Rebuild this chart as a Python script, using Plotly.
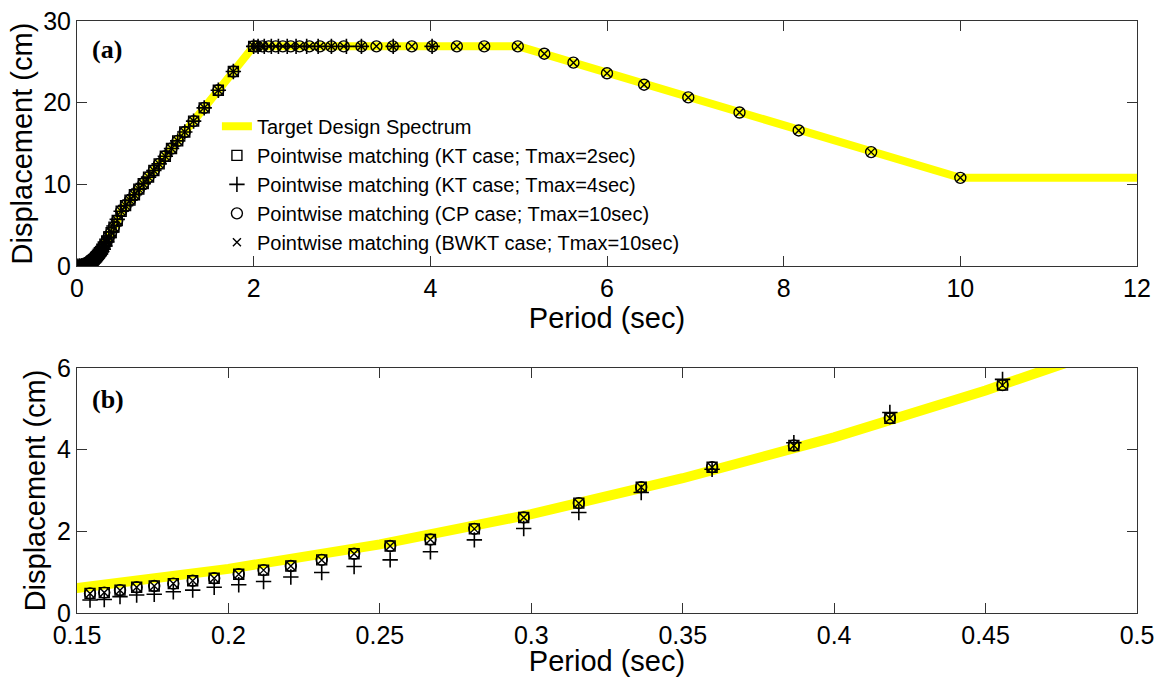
import plotly.graph_objects as go

# ---------------- data ----------------
# Target design spectrum (period in sec, displacement in cm)
target_T = [0.0, 0.05, 0.10, 0.15, 0.20, 0.25, 0.30, 0.35, 0.40, 0.45, 0.50, 2.0, 5.0, 10.0, 12.0]
target_D = [0.0, 0.07, 0.27, 0.61, 1.08, 1.68, 2.42, 3.30, 4.30, 5.45, 6.72, 26.9, 26.9, 10.8, 10.8]

# Periods shared by all matching cases up to 2 sec
T_short = [0.01, 0.03, 0.05, 0.07, 0.09, 0.11, 0.13, 0.145,
           0.1543, 0.1590, 0.1642, 0.1697, 0.1755, 0.1818, 0.1882, 0.1953, 0.2034, 0.2116,
           0.2206, 0.2308, 0.2415, 0.2534, 0.2667, 0.2812, 0.2975, 0.3157, 0.3363, 0.3597,
           0.3867, 0.4184, 0.4556,
           0.50, 0.55, 0.60, 0.65, 0.70, 0.75, 0.81, 0.87, 0.93, 1.00, 1.07, 1.14,
           1.22, 1.32, 1.44, 1.60, 1.77, 2.00]

# KT case, Tmax=2sec (squares)
kt2_D = [0.00, 0.02, 0.05, 0.10, 0.17, 0.25, 0.34, 0.42,
         0.48, 0.50, 0.56, 0.63, 0.66, 0.72, 0.79, 0.85, 0.95, 1.05,
         1.15, 1.30, 1.45, 1.64, 1.80, 2.06, 2.34, 2.69, 3.08, 3.57,
         4.10, 4.77, 5.58,
         6.72, 7.40, 8.07, 8.74, 9.42, 10.09, 10.89, 11.70, 12.51, 13.45, 14.39, 15.33,
         16.41, 17.75, 19.37, 21.52, 23.81, 26.90]

# KT case, Tmax=4sec (plus)
kt4_T_long = [2.05, 2.12, 2.20, 2.28, 2.38, 2.48, 2.60, 2.73, 2.88, 3.05, 3.22, 3.58, 4.02]
kt4_D_short = [0.00, 0.01, 0.03, 0.06, 0.10, 0.16, 0.22, 0.28,
               0.32, 0.33, 0.40, 0.44, 0.46, 0.52, 0.56, 0.63, 0.69, 0.77,
               0.88, 0.99, 1.14, 1.30, 1.50, 1.79, 2.07, 2.46, 2.95, 3.52,
               4.17, 4.91, 5.72,
               6.72, 7.40, 8.07, 8.74, 9.42, 10.09, 10.89, 11.70, 12.51, 13.45, 14.39, 15.33,
               16.41, 17.75, 19.37, 21.52, 23.81, 26.90]
kt4_D_long = [26.9, 26.9, 26.9, 26.9, 26.9, 26.9, 26.9, 26.9, 26.9, 26.9, 26.9, 26.9, 26.9]

# CP and BWKT cases, Tmax=10sec (circles, crosses)
T_long = [2.04, 2.10, 2.17, 2.25, 2.33, 2.42, 2.52, 2.63, 2.75, 2.88, 3.02, 3.22, 3.39,
          3.575, 3.79, 4.02, 4.30, 4.61, 4.99, 5.29, 5.62, 6.00, 6.42, 6.92, 7.50, 8.17,
          8.99, 10.0]
cp_D_long = [26.9, 26.9, 26.9, 26.9, 26.9, 26.9, 26.9, 26.9, 26.9, 26.9, 26.9, 26.9, 26.9,
             26.9, 26.9, 26.9, 26.9, 26.9, 26.9, 26.0, 24.9, 23.6, 22.2, 20.65, 18.8, 16.6,
             13.95, 10.8]
cp_D_short = kt2_D
bwkt_D_short = kt2_D
bwkt_D_long = cp_D_long

# axis ticks
xa_ticks = [0, 2, 4, 6, 8, 10, 12]
ya_ticks = [0, 10, 20, 30]
xb_ticks = [0.15, 0.2, 0.25, 0.3, 0.35, 0.4, 0.45, 0.5]
xb_ticktext = ["0.15", "0.2", "0.25", "0.3", "0.35", "0.4", "0.45", "0.5"]
yb_ticks = [0, 2, 4, 6]

legend_names = [
    "Target Design Spectrum",
    "Pointwise matching (KT case; Tmax=2sec)",
    "Pointwise matching (KT case; Tmax=4sec)",
    "Pointwise matching (CP case; Tmax=10sec)",
    "Pointwise matching (BWKT case; Tmax=10sec)",
]

# ---------------- figure ----------------
FONT = "Liberation Sans, Arial, sans-serif"
fig = go.Figure()

series = [
    (T_short, kt2_D, "square-open", 10, 1.4),
    (T_short + kt4_T_long, kt4_D_short + kt4_D_long, "cross-thin-open", 11, 1.6),
    (T_short + T_long, cp_D_short + cp_D_long, "circle-open", 11, 1.4),
    (T_short + T_long, bwkt_D_short + bwkt_D_long, "x-thin-open", 8, 1.4),
]

for panel, (xa, ya, lw) in enumerate([("x", "y", 8), ("x2", "y2", 10)]):
    fig.add_trace(go.Scatter(
        x=target_T, y=target_D, mode="lines", name=legend_names[0],
        line=dict(color="#FFFF00", width=lw), xaxis=xa, yaxis=ya,
        showlegend=(panel == 0)))
    for i, (tx, dy, sym, sz, mlw) in enumerate(series):
        fig.add_trace(go.Scatter(
            x=tx, y=dy, mode="markers", name=legend_names[i + 1],
            marker=dict(symbol=sym, size=sz, color="black",
                        line=dict(color="black", width=mlw)),
            xaxis=xa, yaxis=ya, showlegend=(panel == 0)))

axis_common = dict(showline=True, linecolor="#333333", linewidth=1, mirror="ticks",
                   ticks="inside", ticklen=10, tickcolor="#333333", tickwidth=1,
                   showgrid=False, zeroline=False,
                   tickfont=dict(family=FONT, size=25, color="black"),
                   automargin=False)
title_font = dict(family=FONT, size=29, color="black")

fig.update_layout(
    width=1158, height=677,
    margin=dict(l=77, r=21, t=21, b=64),
    paper_bgcolor="white", plot_bgcolor="white",
    xaxis=dict(domain=[0, 1], anchor="y", range=[0, 12], tickvals=xa_ticks,
               title=dict(text="Period (sec)", font=title_font, standoff=4), **axis_common),
    yaxis=dict(domain=[0.586, 1], anchor="x", range=[0, 30], tickvals=ya_ticks,
               title=dict(text="Displacement (cm)", font=title_font, standoff=2), **axis_common),
    xaxis2=dict(domain=[0, 1], anchor="y2", range=[0.15, 0.5], tickvals=xb_ticks,
                ticktext=xb_ticktext,
                title=dict(text="Period (sec)", font=title_font, standoff=5), **axis_common),
    yaxis2=dict(domain=[0, 0.4139], anchor="x2", range=[0, 6], tickvals=yb_ticks,
                title=dict(text="Displacement (cm)", font=title_font, standoff=2), **axis_common),
    legend=dict(x=0.132, y=0.855, xanchor="left", yanchor="top",
                bgcolor="rgba(0,0,0,0)", borderwidth=0,
                font=dict(family=FONT, size=20, color="black"),
                tracegroupgap=0, itemwidth=30),
    showlegend=True,
    annotations=[
        dict(text="<b>(a)</b>", xref="x domain", yref="y domain", x=0.012, y=0.885,
             xanchor="left", yanchor="middle", showarrow=False,
             font=dict(family="Liberation Serif, Times New Roman, serif", size=26, color="black")),
        dict(text="<b>(b)</b>", xref="x2 domain", yref="y2 domain", x=0.012, y=0.87,
             xanchor="left", yanchor="middle", showarrow=False,
             font=dict(family="Liberation Serif, Times New Roman, serif", size=26, color="black")),
    ],
)

fig.write_html("out.html")
